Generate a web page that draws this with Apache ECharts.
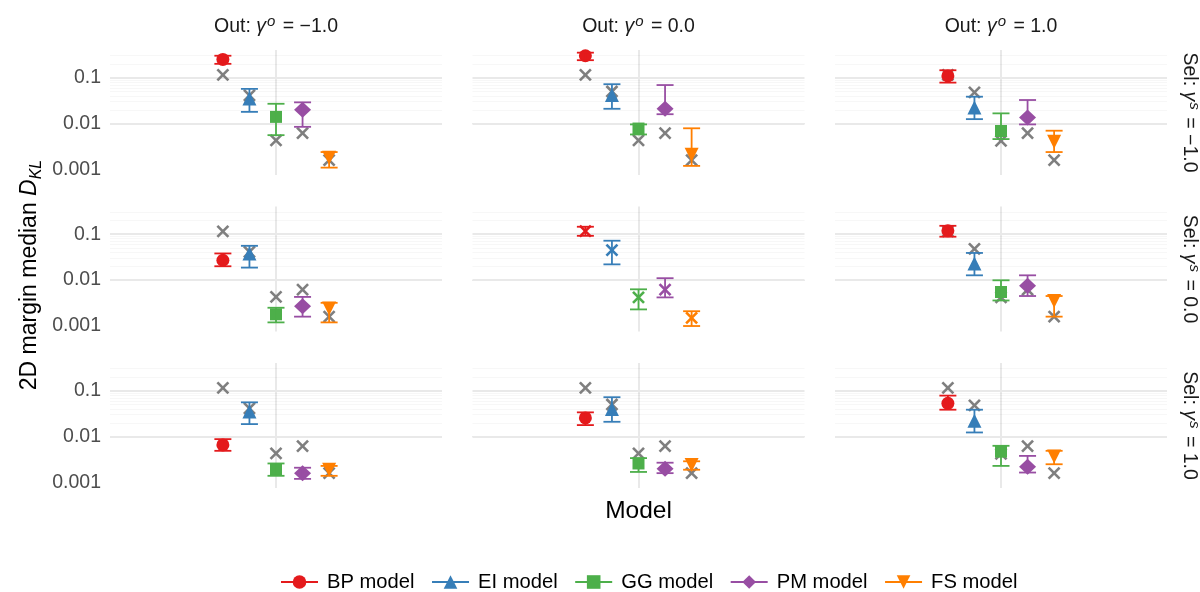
<!DOCTYPE html>
<html>
<head>
<meta charset="utf-8">
<script src="https://cdn.jsdelivr.net/npm/echarts@6/dist/echarts.min.js"></script>
<style>
  html, body { margin: 0; padding: 0; background: #ffffff; }
  #chart { width: 1200px; height: 592px; }
</style>
</head>
<body>
<div id="chart"></div>
<script>
// Models and facet levels
const models = ['BP model', 'EI model', 'GG model', 'PM model', 'FS model'];
const outLevels = ['\u22121.0', '0.0', '1.0'];   // facet columns
const selLevels = ['\u22121.0', '0.0', '1.0'];   // facet rows

// Y axis ticks
const yTicks = [0.001, 0.01, 0.1];
const yTickLabels = ['0.001', '0.01', '0.1'];

// Median D_KL and interval bounds per model.
// Panels in row-major order: (Sel -1: Out -1, 0, 1), (Sel 0: ...), (Sel 1: ...)
const bpMed  = [0.25,  0.30,  0.109, 0.027, 0.116, 0.118, 0.0066, 0.0255, 0.053];
const bpLow  = [0.20,  0.24,  0.078, 0.020, 0.092, 0.088, 0.0049, 0.0178, 0.0385];
const bpHigh = [0.30,  0.35,  0.145, 0.038, 0.145, 0.152, 0.0088, 0.0337, 0.078];

const eiMed  = [0.035, 0.042, 0.0225, 0.038,  0.045, 0.023,  0.035,  0.040, 0.022];
const eiLow  = [0.018, 0.021, 0.0125, 0.0187, 0.022, 0.0127, 0.0187, 0.021, 0.0123];
const eiHigh = [0.057, 0.072, 0.0385, 0.0557, 0.072, 0.039,  0.0557, 0.072, 0.0385];

const ggMed  = [0.014,  0.0078, 0.0069, 0.0018, 0.0042, 0.0055, 0.0019, 0.0026, 0.0047];
const ggLow  = [0.0056, 0.0058, 0.0046, 0.0012, 0.0023, 0.0036, 0.0014, 0.0017, 0.0023];
const ggHigh = [0.027,  0.0096, 0.0167, 0.0025, 0.0063, 0.0099, 0.0026, 0.0034, 0.0063];

const pmMed  = [0.020,  0.021, 0.0136, 0.0027, 0.0062, 0.0075, 0.0016, 0.0020, 0.0022];
const pmLow  = [0.0085, 0.016, 0.0096, 0.0016, 0.0042, 0.0045, 0.0012, 0.0016, 0.00165];
const pmHigh = [0.029,  0.069, 0.0326, 0.0043, 0.011,  0.0127, 0.0021, 0.0027, 0.0038];

const fsMed  = [0.0018, 0.0021, 0.0040, 0.0024, 0.0015, 0.0035, 0.0019, 0.0024, 0.0037];
const fsLow  = [0.0011, 0.0012, 0.0024, 0.0012, 0.0010, 0.0016, 0.0014, 0.0019, 0.0025];
const fsHigh = [0.0024, 0.0079, 0.0070, 0.0032, 0.0021, 0.0045, 0.0023, 0.0029, 0.0049];

// Reference D_KL per model (grey crosses), one list per Out level
const refOutNeg = [0.115, 0.041, 0.0043, 0.0062, 0.0016];
const refOutZero = [0.115, 0.050, 0.0043, 0.0062, 0.0016];
const refOutPos = [0.115, 0.048, 0.0042, 0.0062, 0.0016];

// ---- assembly ----
const medians = [bpMed, eiMed, ggMed, pmMed, fsMed];
const lows = [bpLow, eiLow, ggLow, pmLow, fsLow];
const highs = [bpHigh, eiHigh, ggHigh, pmHigh, fsHigh];
const refs = [refOutNeg, refOutZero, refOutPos];

// Panel where both effects are zero: medians shown as crosses in model colour
const nullRow = selLevels.indexOf('0.0');
const nullCol = outLevels.indexOf('0.0');

const colors = ['#E41A1C', '#377EB8', '#4DAF4A', '#984EA3', '#FF7F00'];
const symbols = ['circle', 'triangle', 'rect', 'diamond', 'triangle'];
const symbolRotates = [0, 0, 0, 0, 180];
const symbolSizes = [13, 14, 12, [17, 16], 14];
const crossGrey = '#7f7f7f';

const FONT = '"Liberation Sans", Arial, Helvetica, sans-serif';
const yMin = 0.00076, yMax = 0.4;
const dodge = 0.16;
const capHalf = 8.5;
const crossHalf = 5.5;

const gridLeft = [110, 472.5, 835];
const gridTop = [50, 206.5, 363];
const gridW = 332, gridH = 125;
const majorStyle = { color: '#e9e9e9', width: 2, type: 'solid' };
const minorStyle = { color: 'rgba(0,0,0,0.03)', width: 1, type: 'solid' };

// minor log gridlines at 2..9 x 10^k
const minorGrid = [];
[0.0001, 0.001, 0.01, 0.1].forEach(function (d) {
  for (let k = 2; k <= 9; k++) {
    const v = +(d * k).toPrecision(3);
    if (v > yMin && v < yMax) minorGrid.push(v);
  }
});

function xPos(m) { return 1 + (m - 2) * dodge; }

function tickLabel(v) {
  for (let i = 0; i < yTicks.length; i++) {
    if (Math.abs(Math.log10(v) - Math.log10(yTicks[i])) < 1e-6) return yTickLabels[i];
  }
  return '';
}

const grids = [], xAxes = [], yAxes = [], series = [];

for (let r = 0; r < 3; r++) {
  for (let c = 0; c < 3; c++) {
    const p = r * 3 + c;
    const isNull = (r === nullRow && c === nullCol);
    grids.push({ left: gridLeft[c], top: gridTop[r], width: gridW, height: gridH, containLabel: false });
    xAxes.push({
      gridIndex: p, type: 'value', min: 0, max: 2, interval: 1,
      axisLine: { show: false }, axisTick: { show: false }, axisLabel: { show: false },
      splitLine: { show: true, showMinLine: false, showMaxLine: false, lineStyle: majorStyle }
    });
    yAxes.push({
      gridIndex: p, type: 'log', logBase: 10, min: yMin, max: yMax,
      axisLine: { show: false }, axisTick: { show: false },
      axisLabel: { show: c === 0, formatter: tickLabel, color: '#4d4d4d',
        fontSize: 19.5, fontFamily: FONT, margin: 9 },
      splitLine: { show: false }
    });

    // horizontal gridlines: decades and 2..9 subdivisions
    const gridLines = minorGrid.map(function (v) { return { yAxis: v, lineStyle: minorStyle }; })
      .concat(yTicks.map(function (v) { return { yAxis: v, lineStyle: majorStyle }; }));
    series.push({
      type: 'line', xAxisIndex: p, yAxisIndex: p, data: [], silent: true, z: 1,
      markLine: {
        z: 1, silent: true, symbol: ['none', 'none'], label: { show: false },
        lineStyle: minorStyle, emphasis: { disabled: true },
        data: gridLines
      }
    });

    // crosses: reference values in grey, or coloured medians in the null panel
    const crossData = [];
    for (let m = 0; m < models.length; m++) {
      if (isNull) crossData.push([xPos(m), medians[m][p], m]);
      else crossData.push([xPos(m), refs[c][m], -1]);
    }
    series.push({
      type: 'custom', xAxisIndex: p, yAxisIndex: p, z: 2, silent: true,
      data: crossData, encode: { x: 0, y: 1 },
      renderItem: function (params, api) {
        const pt = api.coord([api.value(0), api.value(1)]);
        const ci = api.value(2);
        const st = { stroke: ci < 0 ? crossGrey : colors[ci], lineWidth: 2.6 };
        return {
          type: 'group', children: [
            { type: 'line', shape: { x1: pt[0] - crossHalf, y1: pt[1] - crossHalf, x2: pt[0] + crossHalf, y2: pt[1] + crossHalf }, style: st },
            { type: 'line', shape: { x1: pt[0] - crossHalf, y1: pt[1] + crossHalf, x2: pt[0] + crossHalf, y2: pt[1] - crossHalf }, style: st }
          ]
        };
      }
    });

    // median points
    if (!isNull) {
      for (let m = 0; m < models.length; m++) {
        series.push({
          type: 'line', name: models[m], xAxisIndex: p, yAxisIndex: p, z: 3,
          data: [[xPos(m), medians[m][p]]],
          symbol: symbols[m], symbolRotate: symbolRotates[m], symbolSize: symbolSizes[m],
          showSymbol: true,
          itemStyle: { color: colors[m] },
          lineStyle: { color: colors[m], width: 2 },
          emphasis: { disabled: true }
        });
      }
    }

    // interval bars
    const barData = [];
    for (let m = 0; m < models.length; m++) barData.push([xPos(m), lows[m][p], highs[m][p], m]);
    series.push({
      type: 'custom', xAxisIndex: p, yAxisIndex: p, z: 4, silent: true,
      data: barData, encode: { x: 0, y: [1, 2] },
      renderItem: function (params, api) {
        const x = api.value(0);
        const top = api.coord([x, api.value(2)]);
        const bot = api.coord([x, api.value(1)]);
        const st = { stroke: colors[api.value(3)], lineWidth: 1.8 };
        return {
          type: 'group', children: [
            { type: 'line', shape: { x1: top[0], y1: top[1], x2: bot[0], y2: bot[1] }, style: st },
            { type: 'line', shape: { x1: top[0] - capHalf, y1: top[1], x2: top[0] + capHalf, y2: top[1] }, style: st },
            { type: 'line', shape: { x1: bot[0] - capHalf, y1: bot[1], x2: bot[0] + capHalf, y2: bot[1] }, style: st }
          ]
        };
      }
    });
  }
}

// strip labels and axis titles
const stripRich = {
  a: { fontSize: 19.5, fontFamily: FONT, fill: '#1a1a1a', lineHeight: 26 },
  g: { fontSize: 19.5, fontFamily: FONT, fontStyle: 'italic', fill: '#1a1a1a', lineHeight: 26, padding: [0, 1, 0, 0] },
  s: { fontSize: 15, fontFamily: FONT, fontStyle: 'italic', fill: '#1a1a1a', lineHeight: 15, verticalAlign: 'top', padding: [0, 2, 0, 0] }
};
const graphics = [];
for (let c = 0; c < 3; c++) {
  graphics.push({
    type: 'text', x: gridLeft[c] + gridW / 2, y: 27, silent: true,
    style: { text: '{a|Out: }{g|γ}{s|o}{a| = ' + outLevels[c] + '}', rich: stripRich,
      align: 'center', verticalAlign: 'middle', textAlign: 'center', textVerticalAlign: 'middle' }
  });
}
for (let r = 0; r < 3; r++) {
  graphics.push({
    type: 'text', x: 1189, y: gridTop[r] + gridH / 2, rotation: -Math.PI / 2, silent: true,
    style: { text: '{a|Sel: }{g|γ}{s|s}{a| = ' + selLevels[r] + '}', rich: stripRich,
      align: 'center', verticalAlign: 'middle', textAlign: 'center', textVerticalAlign: 'middle' }
  });
}
graphics.push({
  type: 'text', x: 30, y: 275, rotation: Math.PI / 2, silent: true,
  style: {
    text: '{a|2D margin median }{d|D}{k|KL}',
    rich: {
      a: { fontSize: 23, fontFamily: FONT, fill: '#000', lineHeight: 30 },
      d: { fontSize: 23, fontFamily: FONT, fontStyle: 'italic', fill: '#000', lineHeight: 30 },
      k: { fontSize: 16, fontFamily: FONT, fontStyle: 'italic', fill: '#000', lineHeight: 18, verticalAlign: 'bottom' }
    },
    align: 'center', verticalAlign: 'middle', textAlign: 'center', textVerticalAlign: 'middle'
  }
});
graphics.push({
  type: 'text', x: 638.5, y: 511, silent: true,
  style: { text: 'Model', fontSize: 24.5, fontFamily: FONT, fill: '#000',
    align: 'center', verticalAlign: 'middle', textAlign: 'center', textVerticalAlign: 'middle' }
});

const chart = echarts.init(document.getElementById('chart'));
chart.setOption({
  animation: false,
  backgroundColor: '#ffffff',
  grid: grids,
  xAxis: xAxes,
  yAxis: yAxes,
  legend: {
    data: models, left: 275, top: 567, orient: 'horizontal',
    itemWidth: 37, itemHeight: 17, itemGap: 16.5, selectedMode: false,
    textStyle: { fontSize: 20.2, fontFamily: FONT, color: '#000', padding: [0, 0, 0, 4] }
  },
  graphic: graphics,
  series: series
});
</script>
</body>
</html>
